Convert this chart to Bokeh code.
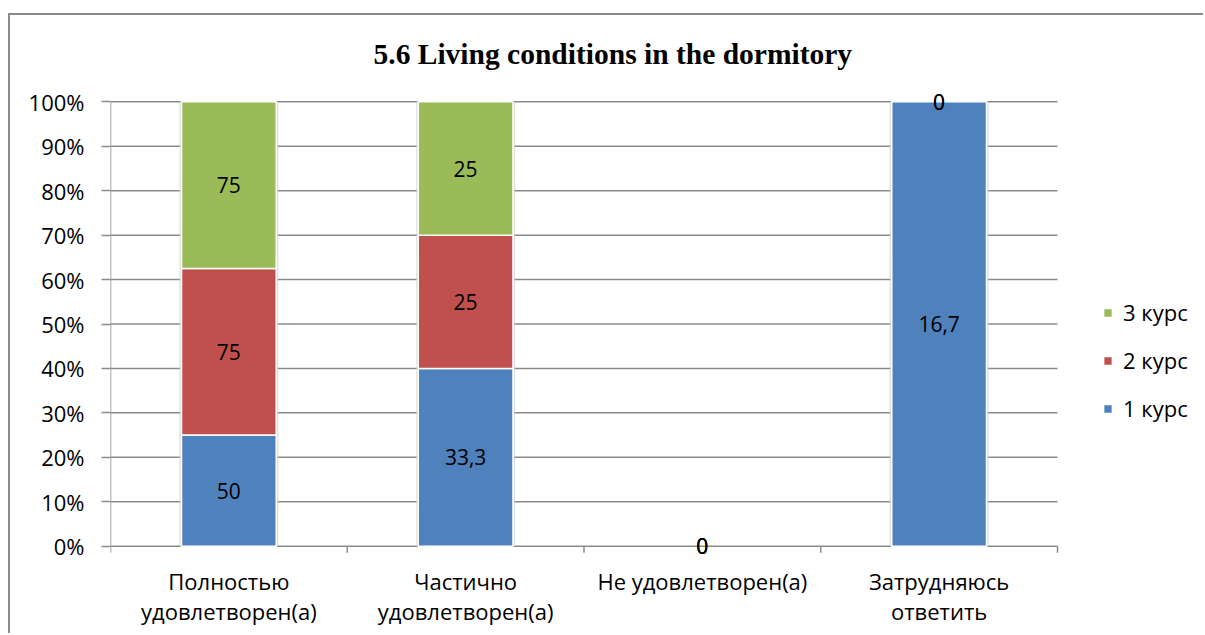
from bokeh.plotting import figure
from bokeh.models import (ColumnDataSource, FixedTicker, LabelSet, Legend, LegendItem,
                          Range1d, NumeralTickFormatter)
from bokeh.core.properties import value
from bokeh.embed import file_html
from bokeh.resources import INLINE

# Survey answers per study year (counts as published, shown as 100% stacked)
categories = ["Полностью\nудовлетворен(а)", "Частично\nудовлетворен(а)",
              "Не удовлетворен(а)", "Затрудняюсь\nответить"]
series_names = ["1 курс", "2 курс", "3 курс"]
course1 = [50, 33.3, 0, 16.7]
course2 = [75, 25, 0, 0]
course3 = [75, 25, 0, 0]
series_colors = ["#4F81BD", "#C0504D", "#9BBB59"]
y_ticks = [0.0, 0.1, 0.2, 0.3, 0.4, 0.5, 0.6, 0.7, 0.8, 0.9, 1.0]

FONT = "Open Sans"
FSIZE = "22px"
GRID = "#8a8a8a"
PAD = 0.03  # room so value labels sitting on 0% / 100% are not cut off

n_cat = len(categories)
xs = [i + 0.5 for i in range(n_cat)]
bounds = [float(i) for i in range(n_cat + 1)]
# the plotting area runs on to the right so the legend can sit beside the bars
x_end = n_cat * (1195 - 100) / (1047 - 100)

series = [course1, course2, course3]
totals = [sum(vals) for vals in zip(*series)]

p = figure(width=1195, height=620, output_backend="svg", toolbar_location=None,
           x_range=Range1d(0, x_end), y_range=Range1d(-PAD, 1 + PAD),
           min_border_left=100, min_border_right=0, min_border_top=73,
           min_border_bottom=76)
p.styles = {"margin-left": "8px", "margin-top": "13px",
            "border-left": f"2px solid {GRID}", "border-top": f"2px solid {GRID}"}
p.outline_line_color = None
p.background_fill_color = "white"
p.border_fill_color = "white"

p.title.text = "5.6 Living conditions in the dormitory"
p.title.text_font = "Liberation Serif"
p.title.text_font_style = "bold"
p.title.text_font_size = "29.5px"
p.title.text_color = "black"
p.title.align = "left"
p.title.offset = 263
p.title.standoff = 37

# horizontal grid, axis line and category separator ticks
p.segment(x0=[0] * len(y_ticks), y0=y_ticks, x1=[n_cat] * len(y_ticks), y1=y_ticks,
          line_color=GRID, line_width=1.5)
p.segment(x0=[0], y0=[0], x1=[0], y1=[1], line_color=GRID, line_width=1.5)
p.segment(x0=bounds, y0=[0] * len(bounds), x1=bounds, y1=[-0.015] * len(bounds),
          line_color=GRID, line_width=1.5)

# soft shadow behind each stacked column
stack_top = [1.0 if t else 0.0 for t in totals]
p.vbar(x=[x for x, t in zip(xs, stack_top) if t], top=[t for t in stack_top if t],
       bottom=0, width=0.418, fill_color="#d4d4d4", fill_alpha=0.7, line_color=None)

renderers = []
label_x, label_y, label_text = [], [], []
bottom = [0.0] * n_cat
for name, vals, color in zip(series_names, series, series_colors):
    share = [v / t if t else 0.0 for v, t in zip(vals, totals)]
    top = [b + s for b, s in zip(bottom, share)]
    keep = [i for i, s in enumerate(share) if s > 0]
    src = ColumnDataSource(dict(x=[xs[i] for i in keep], bottom=[bottom[i] for i in keep],
                                top=[top[i] for i in keep]))
    r = p.vbar(x="x", bottom="bottom", top="top", width=0.4, source=src,
               fill_color=color, line_color="white", line_width=1.5)
    renderers.append((name, r))
    for x, b, t, v in zip(xs, bottom, top, vals):
        label_x.append(x)
        label_y.append((b + t) / 2)
        label_text.append(f"{v:g}".replace(".", ","))
    bottom = top

labels = LabelSet(x="x", y="y", text="text",
                  source=ColumnDataSource(dict(x=label_x, y=label_y, text=label_text)),
                  text_align="center", text_baseline="middle",
                  text_font=value(FONT), text_font_size="21px", text_color="black")
p.add_layout(labels)

# axes
p.xaxis.ticker = FixedTicker(ticks=xs, minor_ticks=[])
p.xaxis.major_label_overrides = {x: c for x, c in zip(xs, categories)}
p.xaxis.major_tick_line_color = None
p.xaxis.axis_line_color = None
p.xaxis.major_label_text_font = FONT
p.xaxis.major_label_text_font_size = FSIZE
p.xaxis.major_label_text_color = "black"
p.xaxis.major_label_text_line_height = 1.02
p.xaxis.major_label_standoff = 0

p.yaxis.ticker = FixedTicker(ticks=y_ticks, minor_ticks=[])
p.yaxis.formatter = NumeralTickFormatter(format="0%")
p.yaxis.major_tick_out = 9
p.yaxis.major_tick_in = 0
p.yaxis.major_tick_line_color = GRID
p.yaxis.major_tick_line_width = 1.5
p.yaxis.axis_line_color = None
p.yaxis.major_label_text_font = FONT
p.yaxis.major_label_text_font_size = FSIZE
p.yaxis.major_label_text_color = "black"
p.yaxis.major_label_standoff = 17

p.xgrid.visible = False
p.ygrid.visible = False

legend = Legend(items=[LegendItem(label=n, renderers=[r]) for n, r in reversed(renderers)],
                location=(992, 136), orientation="vertical",
                glyph_width=11, glyph_height=11, label_standoff=10,
                label_text_font=FONT, label_text_font_size=FSIZE,
                label_text_color="black", label_height=20,
                spacing=18, padding=0, margin=0,
                border_line_color=None, background_fill_alpha=0)
p.add_layout(legend)

open("out.html", "w").write(file_html(p, INLINE))
